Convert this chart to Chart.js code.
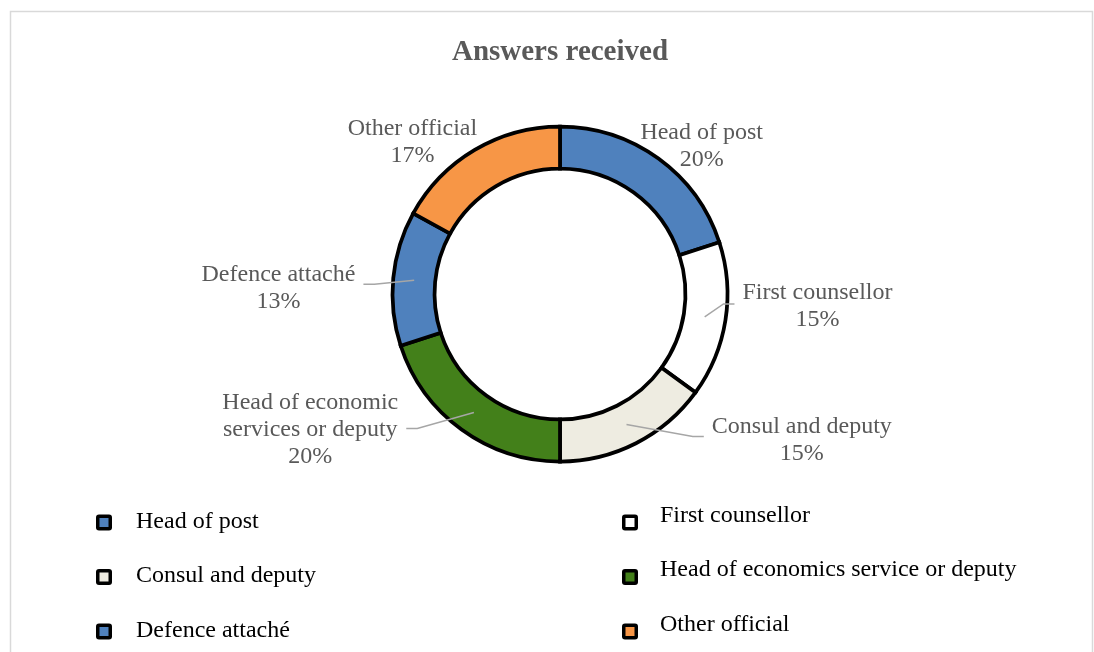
<!DOCTYPE html>
<html><head><meta charset="utf-8">
<script src="https://cdn.jsdelivr.net/npm/chart.js@4.4.1/dist/chart.umd.min.js"></script>
<style>html,body{margin:0;padding:0;background:#fff;overflow:hidden}#wrap{position:relative;width:1094px;height:652px}canvas{display:block}</style>
</head><body><div id="wrap"><canvas id="c" width="1094" height="652"></canvas></div>
<script>
const chartTitle = 'Answers received';
const categories = ['Head of post', 'First counsellor', 'Consul and deputy', 'Head of economics service or deputy', 'Defence attaché', 'Other official'];
const shares = [20, 15, 15, 20, 13, 17];
const sliceLabels = [['Head of post'], ['First counsellor'], ['Consul and deputy'], ['Head of economic', 'services or deputy'], ['Defence attaché'], ['Other official']];
const sliceColors = ['#4F81BD', '#FFFFFF', '#EEECE1', '#43801A', '#4F81BD', '#F79646'];

const SERIF = '"Liberation Serif", "Times New Roman", serif';

const framePlugin = {
  id: 'frame',
  beforeDraw(chart) {
    const ctx = chart.ctx;
    ctx.save();
    ctx.fillStyle = '#fff';
    ctx.fillRect(0, 0, chart.width, chart.height);
    ctx.strokeStyle = '#D9D9D9';
    ctx.lineWidth = 1.5;
    ctx.strokeRect(10.5, 11.5, 1082, 660);
    ctx.restore();
  }
};

const titlePlugin = {
  id: 'customTitle',
  afterDraw(chart, args, opts) {
    const ctx = chart.ctx;
    ctx.save();
    ctx.font = 'bold 29px ' + SERIF;
    ctx.fillStyle = '#595959';
    ctx.textAlign = 'center';
    ctx.textBaseline = 'alphabetic';
    ctx.fillText(chartTitle, 560, 60);
    ctx.restore();
  }
};

const sliceLabelPlugin = {
  id: 'sliceLabels',
  afterDatasetsDraw(chart, args, opts) {
    const ctx = chart.ctx;
    const meta = chart.getDatasetMeta(0);
    const total = shares.reduce((a, b) => a + b, 0);
    ctx.save();
    ctx.font = opts.font;
    ctx.fillStyle = opts.color;
    ctx.textAlign = 'center';
    ctx.textBaseline = 'alphabetic';
    meta.data.forEach((arc, i) => {
      const a = arc.tooltipPosition();
      const p = opts.placement[i];
      const lines = sliceLabels[i].concat([Math.round(shares[i] / total * 100) + '%']);
      const cx = a.x + p.dx, cy = a.y + p.dy;
      const n = lines.length;
      const w = Math.max(...lines.map(l => ctx.measureText(l).width));
      if (p.leader) {
        const side = p.leader;
        const endX = side > 0 ? cx - w / 2 - opts.gap : cx + w / 2 + opts.gap;
        const endY = cy + (p.ly || 0);
        const elbowX = endX - side * opts.elbow;
        ctx.beginPath();
        ctx.moveTo(a.x, a.y);
        ctx.lineTo(elbowX, endY);
        ctx.lineTo(endX, endY);
        ctx.strokeStyle = opts.leaderColor;
        ctx.lineWidth = 1.5;
        ctx.stroke();
      }
      lines.forEach((l, j) => {
        ctx.fillText(l, cx, cy + (j - (n - 1) / 2) * opts.lineHeight + opts.capShift);
      });
    });
    ctx.restore();
  }
};

const legendPlugin = {
  id: 'gridLegend',
  afterDraw(chart, args, opts) {
    const ctx = chart.ctx;
    ctx.save();
    ctx.font = opts.font;
    ctx.textAlign = 'left';
    ctx.textBaseline = 'alphabetic';
    categories.forEach((label, i) => {
      const col = i % 2, row = Math.floor(i / 2);
      const mx = opts.colX[col], my = opts.rowY[row];
      const s = opts.box;
      ctx.fillStyle = '#000';
      ctx.beginPath();
      ctx.roundRect(mx - s / 2, my - s / 2, s, s, 3);
      ctx.fill();
      ctx.fillStyle = sliceColors[i];
      const inner = s - 7;
      ctx.fillRect(mx - inner / 2, my - inner / 2, inner, inner);
      ctx.fillStyle = opts.color;
      ctx.fillText(label, mx + opts.textGap[col], my + opts.textShift[col]);
    });
    ctx.restore();
  }
};

new Chart(document.getElementById('c'), {
  type: 'doughnut',
  data: {
    labels: categories,
    datasets: [{
      data: shares,
      backgroundColor: sliceColors,
      borderColor: '#000',
      borderWidth: 3.75,
      borderAlign: 'center',
      borderJoinStyle: 'miter'
    }]
  },
  options: {
    responsive: false,
    animation: false,
    events: [],
    radius: 167.5,
    cutout: '74.9%',
    layout: { padding: { left: 26, right: 0, top: 0, bottom: 64 } },
    plugins: {
      legend: { display: false },
      title: { display: false },
      tooltip: { enabled: false },
      sliceLabels: {
        font: '24px ' + SERIF,
        color: '#595959',
        leaderColor: '#A6A6A6',
        lineHeight: 27,
        capShift: 8,
        gap: 8,
        elbow: 11,
        placement: [
          { dx: 55.6, dy: -30.6 },
          { dx: 112.8, dy: -12, leader: 1, ly: -1 },
          { dx: 175.3, dy: 14, leader: 1, ly: -2 },
          { dx: -163.6, dy: 15.5, leader: -1, ly: 0.5 },
          { dx: -135.7, dy: 6, leader: -1, ly: -2 },
          { dx: -73, dy: -27 }
        ]
      },
      gridLegend: {
        font: '24px ' + SERIF,
        color: '#000',
        box: 16,
        colX: [104, 630],
        rowY: [522.5, 577, 631.5],
        textGap: [32, 30],
        textShift: [5, -1]
      }
    }
  },
  plugins: [framePlugin, titlePlugin, sliceLabelPlugin, legendPlugin]
});
</script>
</body></html>
